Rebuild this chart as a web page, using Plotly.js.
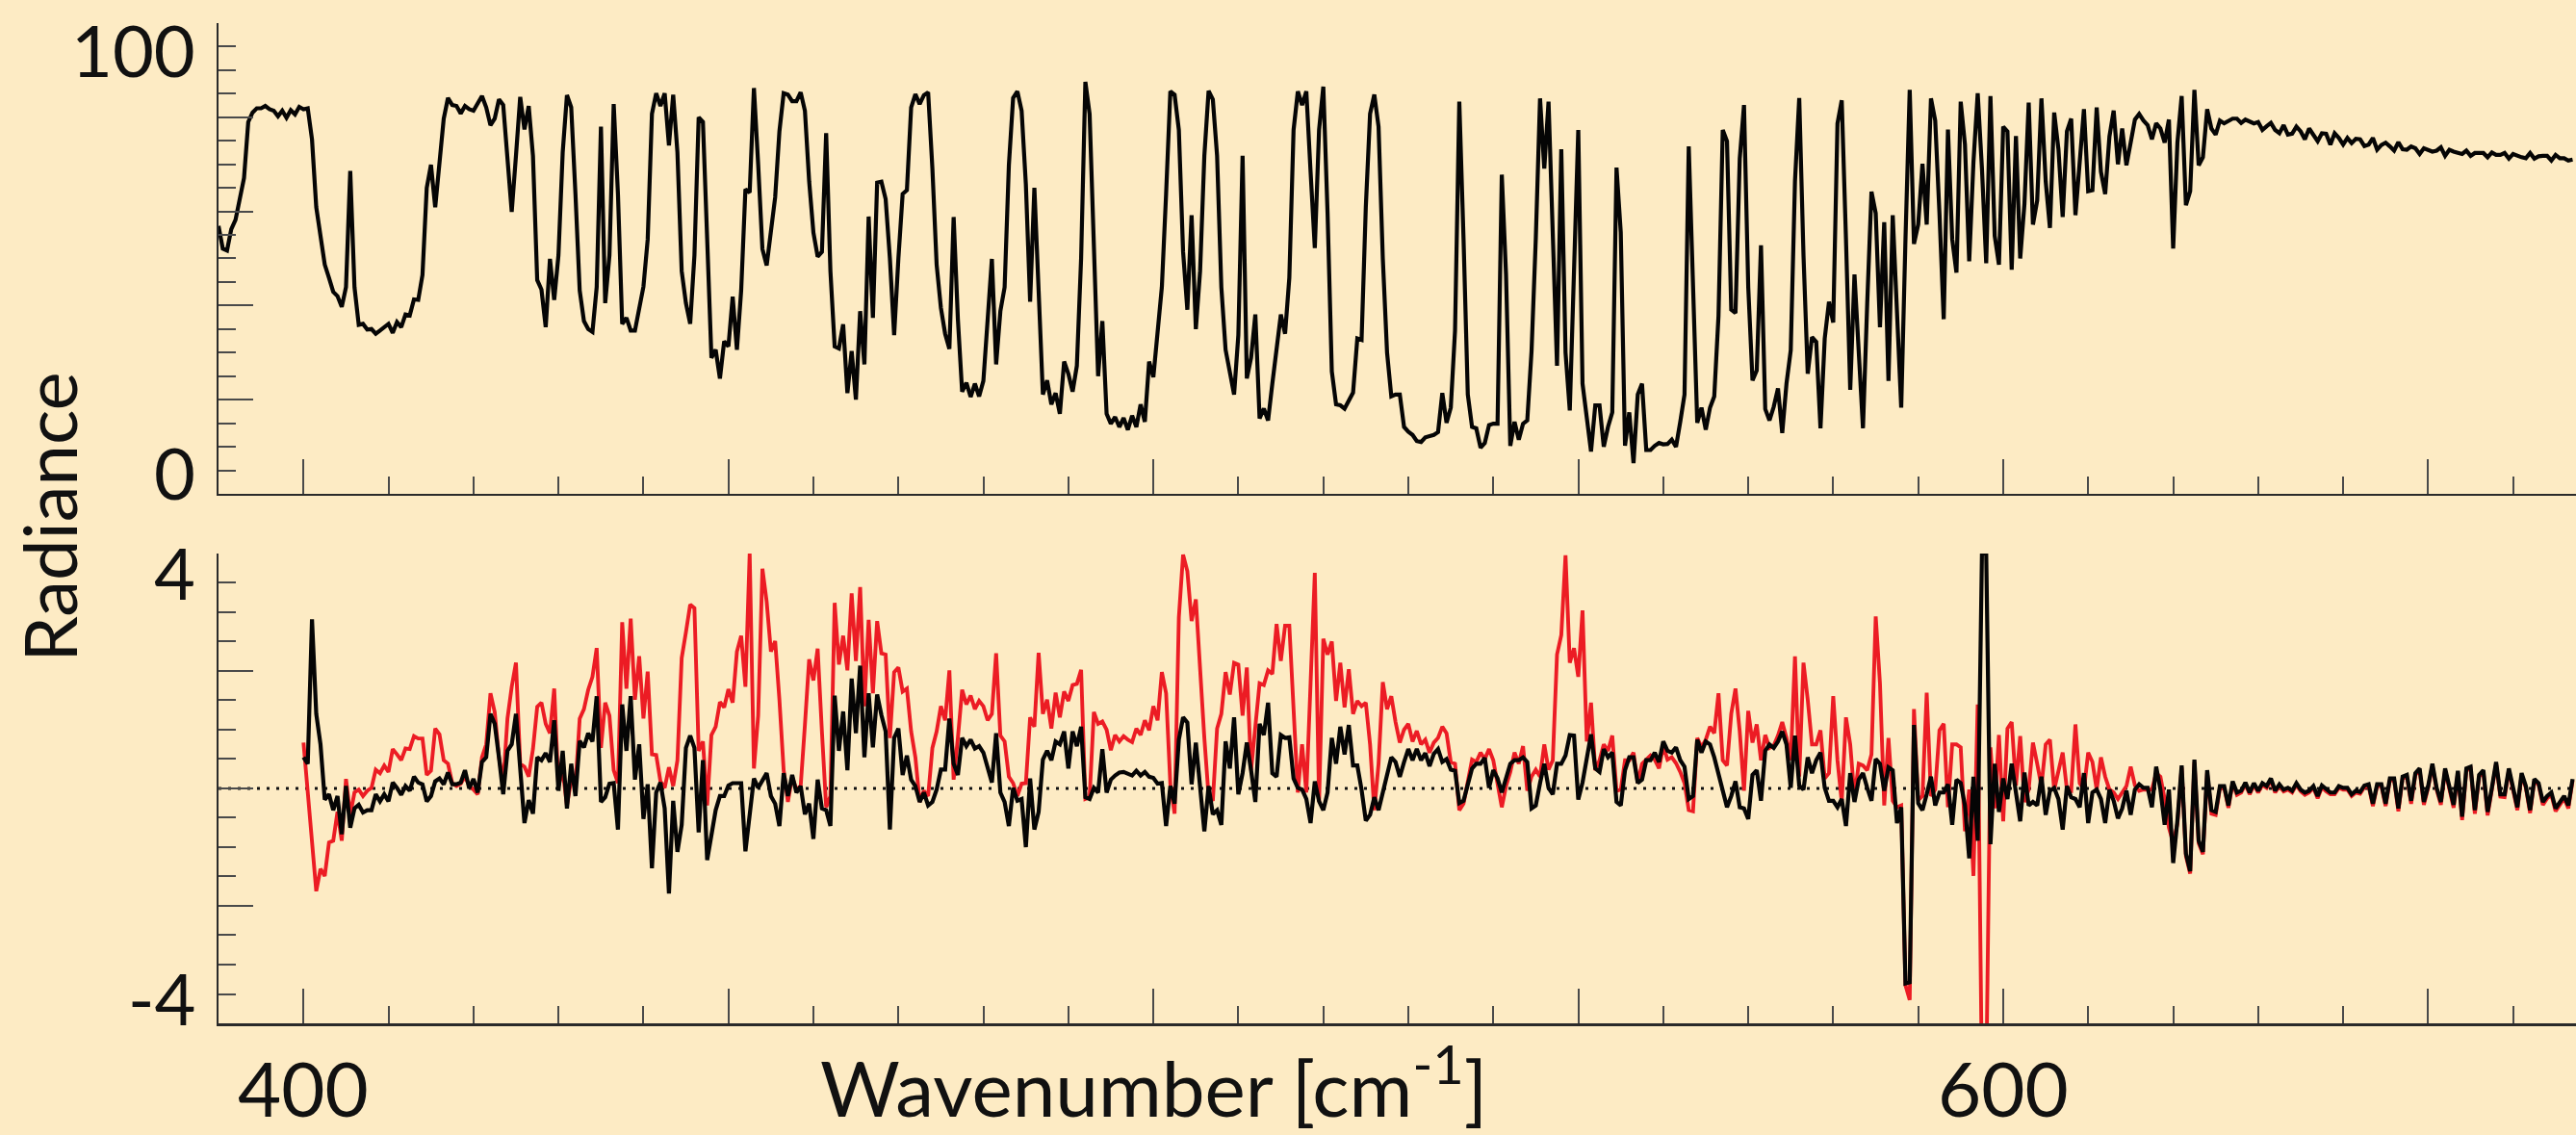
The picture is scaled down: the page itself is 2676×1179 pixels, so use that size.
<!DOCTYPE html>
<html>
<head>
<meta charset="utf-8">
<script src="https://cdn.plot.ly/plotly-3.0.1.min.js"></script>
<style>
  html, body { margin: 0; padding: 0; background: #FDEBC4; }
  #chart { width: 2676px; height: 1179px; }
</style>
</head>
<body>
<div id="chart"></div>
<script>
// Spectral grid (cm^-1): first sample and spacing of each record
const RADIANCE_START = 390;
const RESIDUAL_START = 400;
const SAMPLE_STEP = 0.5;

// Measured radiance, 390 - 667 cm^-1
const radiance = [
  56.9, 52.1, 51.7, 56.2, 58.2, 62.3, 67.1, 79, 81, 81.9,
  81.9, 82.4, 81.7, 81.4, 80.2, 81.4, 79.9, 81.5, 80.6, 82.2,
  81.7, 81.9, 75.3, 60.9, 54.1, 48.7, 45.9, 42.9, 42, 39.7,
  43.9, 68.6, 43.9, 35.9, 36.1, 34.9, 35, 34, 34.7, 35.5,
  36.1, 34.2, 36.5, 35.4, 38.1, 37.9, 41.3, 41.2, 46.5, 65,
  69.9, 60.9, 71.5, 79.7, 84.1, 82.6, 82.4, 80.8, 82.4, 81.7,
  81.4, 83.1, 84.5, 82.1, 78.3, 79.7, 83.8, 82.6, 71.8, 59.9,
  71.8, 84.3, 77.4, 82.4, 71.8, 45.4, 43.4, 35.4, 49.9, 41.2,
  50.7, 72.5, 84.7, 82.1, 63.7, 43.2, 36.7, 35, 34.4, 43.9,
  78, 40.5, 50.7, 82.8, 63.7, 36.1, 37.4, 34.7, 34.7, 39.5,
  44, 54, 80.7, 85.1, 82.4, 85.1, 74, 84.8, 72.5, 47.3,
  40.5, 36.1, 50.7, 80, 79, 54.1, 28.9, 30.6, 24.5, 32.4,
  31.3, 41.9, 30.6, 43.2, 64.7, 64, 86.2, 70, 52, 48.5,
  55, 63, 77, 85.1, 84.8, 83.4, 83.4, 85.3, 81.4, 66.4,
  55.5, 50.4, 51.4, 76.6, 47.3, 31.3, 30.9, 36, 21.4, 30.3,
  20, 38.8, 27.5, 58.9, 37.4, 66.1, 66.3, 62.6, 50, 33.7,
  50, 63.7, 64.5, 82.1, 84.9, 82.8, 84.7, 85.3, 69.1, 48.7,
  39.5, 34, 30.8, 58.8, 37.1, 21.7, 23.6, 20.6, 23.4, 20.7,
  24, 35.7, 49.9, 27.5, 38.8, 43.9, 69.8, 84.1, 85.5, 81.4,
  65.7, 40.8, 65, 43.2, 21.1, 24.1, 19, 21.4, 17, 28.1,
  25.5, 21.7, 27.2, 50, 87.5, 80.7, 54.1, 25, 36.7, 17,
  14.9, 16.3, 14.2, 16.1, 13.6, 16.6, 14.2, 19, 15.3, 28.1,
  24.8, 33.7, 43.9, 63.7, 85.5, 84.8, 77.3, 51.4, 39.1, 59.2,
  35, 47.3, 71.8, 85.6, 83.8, 71.8, 43.9, 30.6, 25.2, 21.1,
  33.7, 71.8, 24.5, 28.9, 38.1, 16, 18.1, 15.6, 23.4, 31.6,
  38.1, 34, 45.9, 77.3, 85.5, 82.6, 85.5, 68.4, 52.2, 77.3,
  86.5, 59.6, 26, 19, 18.8, 18.1, 20, 21.5, 33, 32.7,
  60.9, 80.7, 84.8, 78, 50, 30, 20.7, 21.1, 21.1, 14.2,
  13.2, 12.5, 11.2, 11, 12, 12.2, 12.5, 13.1, 21.4, 15.1,
  18.3, 34.7, 83.3, 54.1, 21.1, 14.2, 13.9, 9.8, 10.8, 14.6,
  14.9, 14.9, 67.8, 46.6, 10.2, 15.3, 11.5, 14.9, 15.6, 30.3,
  54.1, 84, 69.1, 83.3, 57.5, 27.2, 73.2, 30, 17.7, 50.7,
  77.3, 23.4, 16.6, 9, 18.8, 18.8, 10, 14.2, 17.3, 69.3,
  55.5, 10.2, 17.3, 6.5, 21.1, 23.4, 9.3, 9.3, 10.2, 10.8,
  10.5, 10.6, 11.5, 10, 15.3, 21.1, 73.8, 45.3, 15.1, 18.3,
  13.6, 18.3, 20.7, 37.8, 77.3, 74.9, 39.1, 38.4, 71.2, 82.6,
  43.9, 24.1, 26.2, 52.8, 18, 15.6, 18.5, 22.4, 12.9, 23.4,
  30.5, 66.4, 84.1, 50.7, 25.5, 33.3, 32.3, 13.9, 33, 40.8,
  36.4, 78.7, 83.6, 54.1, 22.1, 46.6, 30.3, 13.9, 40.5, 64.2,
  59.6, 35.4, 57.7, 24, 59.2, 40.5, 18.3, 54.1, 85.8, 53.1,
  57.2, 70.1, 57.2, 84, 79.3, 59.6, 37.1, 77.4, 54.1, 47,
  83.3, 74.2, 49.4, 70.5, 85.1, 69.1, 49, 84.5, 54.8, 48.7,
  78, 77, 47.6, 76, 50, 61.6, 83.1, 57.2, 62.3, 84,
  66.4, 56.5, 81, 73.2, 58.8, 77, 79.7, 59.2, 71.8, 81.7,
  64.3, 64.5, 82.1, 68.4, 63.7, 75.9, 81.4, 70, 77.6, 69.8,
  74.6, 79.5, 80.7, 79.3, 78.3, 75.3, 78.7, 77.6, 74.6, 79.5,
  52.1, 74.6, 84.5, 61.3, 64.3, 85.8, 69.8, 71.5, 81.7, 77.6,
  76.3, 79.3, 78.7, 79.3, 79.7, 79.7, 78.8, 79.5, 79, 78.7,
  79, 77.3, 78.1, 78.8, 77.3, 76.6, 78.3, 76.3, 76.5, 78,
  77, 75.3, 77.6, 76.3, 74.9, 76.6, 76.5, 74.2, 76.6, 75.6,
  74.2, 75.6, 74.5, 75.4, 75.3, 73.9, 74.2, 75.6, 73.1, 74.1,
  74.6, 73.8, 72.9, 74.7, 73.2, 73.1, 73.8, 73.4, 72.2, 73.4,
  73.1, 72.7, 72.9, 73.6, 71.8, 73.1, 72.7, 72.5, 72.2, 72.9,
  71.8, 72.4, 72.5, 72.4, 71.5, 72.5, 72, 72, 72.4, 71.2,
  72.2, 71.8, 71.5, 71.3, 72.4, 71.2, 71.7, 71.8, 71.8, 70.8,
  72, 71.3, 71.3, 70.8, 71
];

// Residual before the fit (red), 400 - 667 cm^-1
const residualFirstGuess = [
  0.78, -0.07, -0.89, -1.75, -1.37, -1.49, -0.92, -0.89, -0.4, -0.89,
  0.16, -0.45, -0.07, -0.02, -0.13, -0.04, 0.01, 0.32, 0.26, 0.39,
  0.28, 0.67, 0.58, 0.48, 0.68, 0.67, 0.89, 0.85, 0.85, 0.23,
  0.3, 1.02, 0.92, 0.48, 0.42, 0.09, 0.04, 0.08, 0.2, 0.05,
  -0.02, -0.1, 0.53, 0.75, 1.62, 1.3, 0.53, 0.09, 1.19, 1.73,
  2.14, 0.42, 0.37, 0.2, 0.67, 1.39, 1.46, 1.10, 0.94, 1.70,
  0.04, 0.31, -0.29, 0.15, 0.04, 1.19, 1.35, 1.68, 1.9, 2.39,
  0.69, 1.46, 1.24, 0.31, 0.09, 2.83, 1.70, 2.89, 1.51, 2.25,
  1.19, 1.99, 0.58, 0.57, 0.12, 0.01, 0.36, 0.04, 0.48, 2.22,
  2.66, 3.13, 3.07, 0.64, 0.8, -0.29, 0.91, 1.05, 1.47, 1.38,
  1.69, 1.46, 2.33, 2.60, 1.73, 4.0, 0.34, 1.24, 3.74, 3.18,
  2.33, 2.51, 1.51, 0.31, -0.23, 0.2, -0.02, 0.04, 1.08, 2.20,
  1.84, 2.38, 0.97, -0.32, -0.13, 3.16, 2.11, 2.60, 2.01, 3.32,
  2.17, 3.43, 1.40, 2.87, 1.62, 2.85, 2.3, 2.28, 0.86, 1.98,
  2.06, 1.65, 1.70, 0.97, 0.53, -0.23, -0.04, -0.13, 0.69, 0.97,
  1.40, 1.16, 2.01, 0.15, 0.86, 1.68, 1.43, 1.58, 1.35, 1.49,
  1.40, 1.16, 1.27, 2.3, 0.9, 0.8, 0.2, 0.09, -0.13, 0.08,
  0.09, 1.21, 1.05, 2.31, 1.27, 1.51, 1.02, 1.63, 1.21, 1.65,
  1.49, 1.76, 1.78, 2.02, -0.18, -0.15, 1.30, 1.10, 1.14, 1.0,
  0.65, 0.91, 0.8, 0.89, 0.83, 0.79, 1.02, 0.91, 1.16, 0.99,
  1.40, 1.16, 1.98, 1.62, 0.07, -0.43, 2.91, 3.98, 3.7, 2.85,
  3.22, 2.0, 0.86, -0.13, -0.21, 1.02, 1.27, 1.98, 1.60, 2.14,
  2.11, 1.24, 2.06, 0.31, 1.10, 1.79, 1.76, 2.01, 1.95, 2.80,
  2.17, 2.77, 2.77, 1.30, -0.07, 0.75, -0.07, 1.79, 3.67, -0.23,
  2.55, 2.28, 2.50, 1.49, 2.14, 1.38, 2.03, 1.27, 1.49, 1.40,
  1.46, 0.75, -0.37, 0.42, 1.81, 1.35, 1.57, 1.13, 0.78, 1.0,
  1.10, 0.8, 0.98, 0.75, 0.83, 0.61, 0.78, 0.86, 1.05, 0.94,
  0.45, 0.42, -0.37, -0.26, 0.09, 0.49, 0.45, 0.61, 0.5, 0.67,
  0.48, 0.09, -0.32, 0.04, 0.28, 0.61, 0.42, 0.72, -0.04, 0.2,
  0.32, 0.2, 0.75, 0.32, 0.48, 2.28, 2.61, 3.97, 2.14, 2.39,
  1.9, 3.03, 0.8, 1.46, 0.31, 0.48, 0.75, 0.64, 0.9, -0.04,
  -0.02, 0.48, 0.48, 0.61, 0.09, 0.42, 0.48, 0.56, 0.49, 0.34,
  0.72, 0.49, 0.53, 0.43, 0.28, 0.09, -0.37, -0.39, 0.86, 0.70,
  0.83, 1.05, 0.94, 1.62, 0.48, 0.39, 1.27, 1.70, 0.97, -0.04,
  1.32, 0.78, 1.09, 0.48, 0.91, 0.69, 0.73, 0.9, 1.13, 0.86,
  0.48, 2.25, 0.2, 2.14, 1.51, 0.75, 0.75, 0.99, 0.17, 0.26,
  1.57, 0.48, -0.23, 1.21, 0.75, -0.15, 0.42, 0.39, 0.31, 0.58,
  2.93, 1.79, -0.29, 0.86, -0.21, -0.32, -0.29, -3.35, -3.6, 1.35,
  -0.2, -0.13, 1.63, -0.13, -0.02, 0.99, 1.10, -0.32, 0.75, 0.75,
  0.70, -0.73, -0.02, -1.49, 1.43, -5, -5, 0.70, -0.34, 0.91,
  -0.56, 1.02, 1.13, 0.05, 0.89, -0.23, -0.02, 0.78, 0.42, 0.04,
  0.75, 0.83, -0.02, 0.31, 0.61, -0.02, -0.04, 1.09, 0.09, -0.02,
  0.61, 0.45, -0.02, 0.53, 0.2, -0.02, -0.07, -0.18, -0.07, 0.04,
  0.37, 0.05, -0.04, -0.02, -0.02, -0.02, 0.26, 0.2, -0.18, -0.67,
  -0.92, -0.6, 0.36, -1.15, -1.45, 0.45, -0.93, -1.12, 0.27, -0.43,
  -0.45, 0.0, 0.01, -0.33, 0.09, -0.11, -0.07, 0.07, -0.1, 0.06,
  -0.07, 0.06, 0.01, 0.14, -0.07, 0.04, -0.05, -0.02, -0.07, 0.06,
  -0.05, -0.11, -0.07, 0.01, -0.17, 0.02, -0.05, -0.1, -0.1, 0.01,
  -0.02, -0.02, -0.13, -0.07, -0.09, 0.02, 0.04, -0.3, 0.04, 0.04,
  -0.3, 0.14, 0.14, -0.39, 0.17, 0.2, -0.26, 0.23, 0.31, -0.28,
  0.01, 0.39, -0.02, -0.28, 0.31, 0.01, -0.33, 0.27, -0.54, 0.31,
  0.34, -0.43, 0.2, 0.28, -0.46, -0.02, 0.42, -0.14, -0.15, 0.31,
  -0.05, -0.37, 0.23, 0.01, -0.42, 0.13, 0.06, -0.28, -0.17, -0.11,
  -0.39, -0.27, -0.17, -0.34, 0.13
];

// Residual after the fit (black), 400 - 667 cm^-1
const residualFitted = [
  0.53, 0.42, 2.88, 1.27, 0.75, -0.19, -0.1, -0.37, -0.13, -0.78,
  0.04, -0.67, -0.34, -0.28, -0.41, -0.37, -0.37, -0.1, -0.22, -0.1,
  -0.22, 0.10, 0.01, -0.11, 0.04, -0.04, 0.20, 0.10, 0.07, -0.22,
  -0.13, 0.12, 0.17, 0.07, 0.27, 0.07, 0.07, 0.10, 0.31, 0,
  0.16, -0.07, 0.45, 0.53, 1.27, 1.10, 0.53, -0.1, 0.64, 0.75,
  1.27, 0.37, -0.59, -0.2, -0.43, 0.53, 0.48, 0.60, 0.45, 1.16,
  -0.04, 0.64, -0.34, 0.42, -0.13, 0.81, 0.70, 0.94, 0.80, 1.57,
  -0.23, -0.15, 0.08, 0.09, -0.7, 1.43, 0.64, 1.57, 0.15, 0.75,
  -0.52, 0.07, -1.36, -0.07, 0.1, -0.34, -1.79, -0.21, -1.08, -0.62,
  0.69, 0.9, 0.69, -0.75, 0.48, -1.22, -0.84, -0.37, -0.13, -0.13,
  0.05, 0.09, 0.09, 0.09, -1.07, -0.45, 0.17, 0.01, 0.12, 0.26,
  -0.13, -0.26, -0.64, 0.26, -0.13, 0.23, -0.07, 0.04, -0.44, -0.26,
  -0.86, 0.15, -0.34, -0.37, -0.64, 1.58, 0.64, 1.31, 0.31, 1.87,
  0.94, 2.09, 0.53, 1.62, 0.70, 1.6, 1.25, 0.97, -0.7, 0.86,
  1.02, 0.23, 0.56, 0.15, 0.04, -0.23, -0.07, -0.29, -0.23, -0.02,
  0.32, 0.32, 1.19, 0.42, 0.23, 0.86, 0.72, 0.83, 0.68, 0.72,
  0.61, 0.37, 0.1, 0.94, -0.07, -0.23, -0.64, 0.01, -0.21, -0.18,
  -1.0, 0.17, -0.7, -0.4, 0.49, 0.64, 0.48, 0.8, 0.75, 0.97,
  0.34, 0.97, 0.72, 1.05, -0.15, -0.18, 0.01, -0.07, 0.67, -0.07,
  0.15, 0.22, 0.27, 0.28, 0.25, 0.22, 0.3, 0.22, 0.28, 0.2,
  0.18, 0.08, 0.09, -0.64, 0.04, -0.26, 0.83, 1.21, 1.12, 0.07,
  0.78, 0.1, -0.73, 0.04, -0.44, -0.37, -0.62, 0.8, 0.34, 1.21,
  -0.1, 0.26, 0.78, 0.31, -0.23, 1.10, 0.91, 1.46, 0.26, 0.2,
  0.91, 0.86, 0.87, 0.17, 0.01, -0.02, -0.18, -0.59, 0.12, -0.22,
  -0.37, -0.07, 0.86, 0.42, 1.05, 0.58, 1.08, 0.39, 0.39, -0.02,
  -0.55, -0.45, -0.15, -0.37, -0.07, 0.23, 0.53, 0.45, 0.2, 0.45,
  0.67, 0.48, 0.67, 0.48, 0.6, 0.38, 0.59, 0.67, 0.45, 0.5,
  0.32, 0.3, -0.25, -0.21, 0.04, 0.34, 0.42, 0.42, 0.52, 0.01,
  0.31, 0.17, -0.07, 0.2, 0.42, 0.48, 0.48, 0.53, 0.45, -0.34,
  -0.29, 0.09, 0.42, 0.01, -0.1, 0.42, 0.42, 0.56, 0.91, 0.9,
  -0.19, 0.1, 0.48, 0.92, 0.34, 0.28, 0.67, 0.53, 0.61, -0.23,
  -0.29, 0.31, 0.53, 0.53, 0.09, 0.15, 0.48, 0.48, 0.61, 0.45,
  0.8, 0.64, 0.61, 0.7, 0.48, 0.37, -0.18, -0.13, 0.83, 0.61,
  0.8, 0.75, 0.53, 0.26, -0.02, -0.32, -0.13, 0.12, -0.32, -0.34,
  -0.52, 0.23, 0.31, -0.21, 0.64, 0.75, 0.69, 0.8, 0.97, 0.75,
  0.01, 0.9, 0.05, -0.02, 0.53, 0.26, 0.48, 0.61, 0.01, -0.21,
  -0.21, -0.32, -0.18, -0.64, 0.26, -0.23, 0.15, 0.26, 0.01, -0.21,
  0.5, 0.42, -0.04, 0.36, 0.31, -0.59, -0.32, -3.32, -3.30, 1.08,
  -0.25, -0.37, -0.1, 0.2, -0.29, -0.07, -0.07, 0.07, -0.62, 0.15,
  0.09, -0.29, -1.19, 0.2, -0.89, 4.0, 4.0, -0.95, 0.42, -0.4,
  0.17, -0.18, 0.42, -0.08, -0.56, 0.27, -0.29, -0.23, -0.29, 0.2,
  -0.45, -0.04, 0.01, -0.18, -0.7, 0.04, -0.15, -0.18, -0.32, 0.26,
  -0.59, -0.07, -0.02, -0.18, -0.59, -0.02, -0.21, -0.51, -0.34, -0.04,
  -0.45, -0.02, 0.07, 0.01, 0.01, -0.32, 0.37, -0.02, -0.62, -0.02,
  -1.27, -0.54, 0.39, -1.11, -1.41, 0.49, -0.89, -1.08, 0.31, -0.37,
  -0.4, 0.04, 0.04, -0.29, 0.12, -0.07, -0.04, 0.1, -0.07, 0.09,
  -0.04, 0.09, 0.04, 0.17, -0.04, 0.07, -0.02, 0.01, -0.04, 0.09,
  -0.02, -0.07, -0.04, 0.04, -0.13, 0.05, -0.02, -0.07, -0.07, 0.04,
  0.01, 0.01, -0.1, -0.04, -0.06, 0.05, 0.07, -0.26, 0.07, 0.07,
  -0.26, 0.17, 0.17, -0.34, 0.2, 0.23, -0.21, 0.26, 0.34, -0.23,
  0.04, 0.42, 0.01, -0.23, 0.34, 0.04, -0.28, 0.3, -0.48, 0.34,
  0.37, -0.37, 0.23, 0.31, -0.4, 0.01, 0.45, -0.1, -0.1, 0.34,
  -0.02, -0.32, 0.26, 0.04, -0.37, 0.16, 0.09, -0.23, -0.13, -0.07,
  -0.34, -0.23, -0.13, -0.29, 0.16
];

// Axis tick positions and the labelled values
const wavenumberTicks = [400, 450, 500, 550, 600, 650];
const wavenumberLabelled = [400, 600];
const radianceTicks = [0, 20, 40, 60, 80, 100];
const residualTicks = [-4, -2, 0, 2, 4];

const BG = '#FDEBC4';
const FONT = 'Lato, "Open Sans", sans-serif';
const TICK_COLOR = '#4a4a4a';
const AXIS_COLOR = '#2a2a2a';
const X_RANGE = [390, 667.4];

const traces = [
  {
    name: 'Radiance',
    x0: RADIANCE_START, dx: SAMPLE_STEP, y: radiance,
    xaxis: 'x2', yaxis: 'y2',
    type: 'scatter', mode: 'lines',
    line: { color: '#050505', width: 4.2 },
    hoverinfo: 'skip'
  },
  {
    name: 'First guess residual',
    x0: RESIDUAL_START, dx: SAMPLE_STEP, y: residualFirstGuess,
    xaxis: 'x', yaxis: 'y',
    type: 'scatter', mode: 'lines',
    line: { color: '#EC1C24', width: 3.9 },
    hoverinfo: 'skip'
  },
  {
    name: 'Fitted residual',
    x0: RESIDUAL_START, dx: SAMPLE_STEP, y: residualFitted,
    xaxis: 'x', yaxis: 'y',
    type: 'scatter', mode: 'lines',
    line: { color: '#050505', width: 4.2 },
    hoverinfo: 'skip'
  }
];

function xAxis(anchor) {
  return {
    anchor: anchor,
    range: X_RANGE,
    showline: true, linecolor: AXIS_COLOR, linewidth: 2.5,
    showgrid: false, zeroline: false,
    ticks: 'inside', ticklen: 36, tickwidth: 2, tickcolor: TICK_COLOR,
    tickmode: 'array', tickvals: wavenumberTicks,
    showticklabels: false,
    minor: { tick0: 390, dtick: 10, ticks: 'inside', ticklen: 18, tickwidth: 2, tickcolor: TICK_COLOR, showgrid: false }
  };
}

function yAxis(domain, anchor, range, ticks, minorStep) {
  return {
    domain: domain,
    anchor: anchor,
    range: range,
    showline: true, linecolor: AXIS_COLOR, linewidth: 2,
    showgrid: false, zeroline: false,
    ticks: 'inside', ticklen: 36, tickwidth: 2, tickcolor: TICK_COLOR,
    tickmode: 'array', tickvals: ticks,
    showticklabels: false,
    minor: { dtick: minorStep, ticks: 'inside', ticklen: 18, tickwidth: 2, tickcolor: TICK_COLOR, showgrid: false }
  };
}

const labelFont = { family: FONT, size: 74, color: '#111' };
const LABEL_X = -0.009;
const BOTTOM_TEXT_Y = -0.0645;

const annotations = [
  { text: '100', xref: 'paper', yref: 'y2', x: LABEL_X, y: 100, xanchor: 'right', yanchor: 'top', showarrow: false, font: labelFont, yshift: 19 },
  { text: '0', xref: 'paper', yref: 'y2', x: LABEL_X, y: 0, xanchor: 'right', yanchor: 'bottom', showarrow: false, font: labelFont, yshift: -24 },
  { text: '4', xref: 'paper', yref: 'y', x: LABEL_X, y: 4, xanchor: 'right', yanchor: 'top', showarrow: false, font: labelFont, yshift: 27 },
  { text: '-4', xref: 'paper', yref: 'y', x: LABEL_X, y: -4, xanchor: 'right', yanchor: 'bottom', showarrow: false, font: labelFont, yshift: -20 },
  { text: 'Radiance', xref: 'paper', yref: 'paper', x: -0.0719, y: 0.5063, xanchor: 'center', yanchor: 'middle', textangle: -90, showarrow: false, font: { family: FONT, size: 76, color: '#111' } },
  { text: 'Wavenumber [cm<sup>-1</sup>]', xref: 'x', yref: 'paper', x: 500, y: BOTTOM_TEXT_Y, xanchor: 'center', yanchor: 'middle', showarrow: false, font: { family: FONT, size: 80, color: '#111' }, yshift: 6 }
];
wavenumberLabelled.forEach(function (v) {
  annotations.push({ text: String(v), xref: 'x', yref: 'paper', x: v, y: BOTTOM_TEXT_Y, xanchor: 'center', yanchor: 'middle', showarrow: false, font: { family: FONT, size: 78, color: '#111' } });
});

const layout = {
  width: 2676,
  height: 1179,
  margin: { l: 227, r: 0, t: 24, b: 116 },
  paper_bgcolor: BG,
  plot_bgcolor: BG,
  showlegend: false,
  xaxis: xAxis('y'),
  xaxis2: Object.assign(xAxis('y2'), { matches: 'x' }),
  yaxis: yAxis([0, 0.4697], 'x', [-4, 4], residualTicks, 0.5),
  yaxis2: yAxis([0.5294, 1], 'x2', [0, 100], radianceTicks, 5),
  shapes: [
    {
      type: 'line', layer: 'below',
      xref: 'x', yref: 'y',
      x0: X_RANGE[0], x1: X_RANGE[1], y0: 0, y1: 0,
      line: { color: '#111', width: 3, dash: '3px,7px' }
    }
  ],
  annotations: annotations
};

Plotly.newPlot('chart', traces, layout, { displayModeBar: false, staticPlot: true });
</script>
</body>
</html>
